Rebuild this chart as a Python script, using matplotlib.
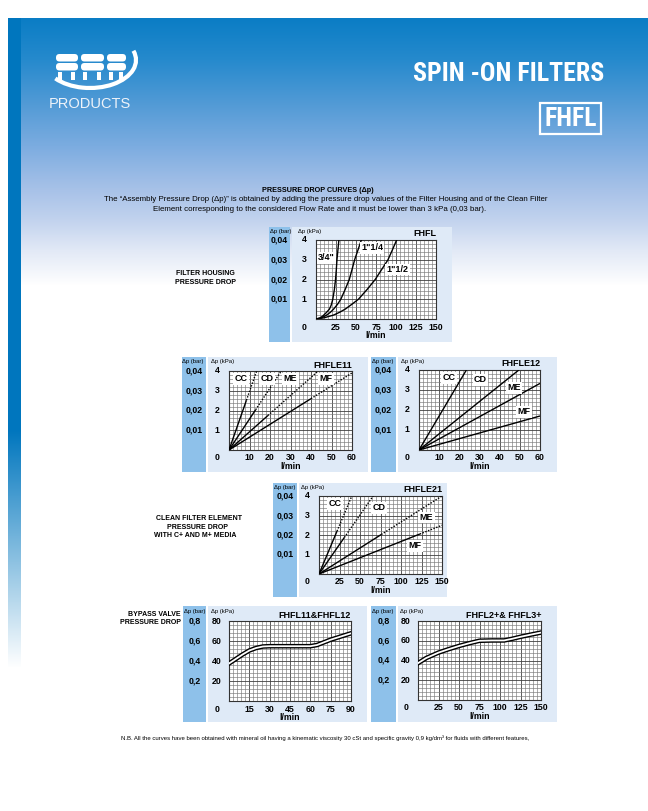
import numpy as np
import matplotlib
matplotlib.use('Agg')
import matplotlib.pyplot as plt
from matplotlib.patches import Rectangle, FancyBboxPatch, Arc
from matplotlib.transforms import blended_transform_factory
from matplotlib import font_manager

# ---------------- data ----------------
fhfl_sizes = ['3/4"', '1"1/4', '1"1/2']
fhfl_q_34 = [0, 5, 9, 13, 16.8, 19, 21, 23, 24.4, 25.4, 26.2, 27.4, 28.6]
fhfl_dp_34 = [0, 0.05, 0.17, 0.33, 0.5, 0.7, 1.0, 1.5, 2.0, 2.5, 3.0, 3.5, 4.0]
fhfl_q_114 = [0, 7, 13, 18, 22, 27, 31, 36.5, 41.6, 45, 48.3, 52.5, 56.7]
fhfl_dp_114 = [0, 0.06, 0.19, 0.34, 0.5, 0.75, 1.0, 1.5, 2.0, 2.5, 3.0, 3.5, 4.0]
fhfl_q_112 = [0, 10, 22, 30, 36.5, 45, 53, 64, 74, 82, 90, 95.5, 100.8]
fhfl_dp_112 = [0, 0.06, 0.2, 0.35, 0.5, 0.75, 1.0, 1.5, 2.0, 2.5, 3.0, 3.5, 4.0]

media = ['CC', 'CD', 'ME', 'MF']
fhfle11_q_end = [13.5, 25.5, 43.5, 60]
fhfle11_dp_end = [4, 4, 4, 3.9]
fhfle11_q_solid = [8.5, 13, 19, 40]
fhfle12_q_end = [23.5, 49.5, 60, 60]
fhfle12_dp_end = [4, 4, 3.33, 1.7]
fhfle12_q_solid = [23.5, 49.5, 60, 60]
fhfle21_q_end = [40, 66, 150, 150]
fhfle21_dp_end = [4, 4, 4, 2.5]
fhfle21_q_solid = [22, 31, 76, 123]

bp1_q = [0, 5, 10, 15, 20, 25, 30, 45, 60, 65, 75, 90]
bp1_dp = [37.5, 42, 46.5, 50.5, 53, 54.5, 54.8, 54.8, 54.8, 56, 61.3, 67.7]
bp2_q = [0, 10, 25, 37.5, 50, 62.5, 75, 90, 105, 115, 125, 137.5, 150]
bp2_dp = [37.3, 42.5, 48, 51.5, 54.7, 57.5, 60, 60.3, 60.3, 62, 64, 66.2, 68.3]

kpa_ticks = [1, 2, 3, 4]
kpa_bar_labels = ['0,01', '0,02', '0,03', '0,04']
bp_kpa_ticks = [20, 40, 60, 80]
bp_bar_labels = ['0,2', '0,4', '0,6', '0,8']
x_ticks_150 = [25, 50, 75, 100, 125, 150]
x_ticks_60 = [10, 20, 30, 40, 50, 60]
x_ticks_90 = [15, 30, 45, 60, 75, 90]

# ---------------- fonts ----------------
SANS = ['Liberation Sans', 'DejaVu Sans']
plt.rcParams['font.family'] = SANS


def find_condensed():
    prefs = ['LiberationSansNarrow-Bold', 'RobotoCondensed-Bold', 'Roboto_Condensed-Bold',
             'DejaVuSansCondensed-Bold', 'OpenSans_Condensed-Bold', 'OpenSansCondensed-Bold']
    files = [f.fname for f in font_manager.fontManager.ttflist]
    for p in prefs:
        for fn in files:
            if p.lower() in fn.replace(' ', '').lower():
                return fn
    return None


COND = find_condensed()


def cond_props(size):
    if COND:
        return dict(fontproperties=font_manager.FontProperties(fname=COND, size=size))
    return dict(family=SANS, fontweight='bold', fontsize=size)


W, H = 648, 811
fig = plt.figure(figsize=(W / 100, H / 100), dpi=100)
bg = fig.add_axes([0, 0, 1, 1])
bg.axis('off')

# ---------------- background gradient ----------------
ys = np.arange(H)
stops_y = [18, 60, 100, 150, 190, 220, 250, 285]
stops_c = np.array([[10, 125, 197], [38, 138, 205], [78, 153, 213], [128, 174, 225],
                    [168, 194, 232], [194, 211, 238], [226, 233, 246], [255, 255, 255]]) / 255
col = np.stack([np.interp(ys, stops_y, stops_c[:, k]) for k in range(3)], axis=1)
strip_y = [18, 430, 667]
strip_c = np.array([[0, 118, 190], [0, 118, 190], [255, 255, 255]]) / 255
scol = np.stack([np.interp(ys, strip_y, strip_c[:, k]) for k in range(3)], axis=1)
img = np.ones((H, W, 3))
img[18:, 8:, :] = col[18:, None, :]
img[18:, 8:21, :] = scol[18:, None, :]
bg.imshow(img, extent=[0, W, H, 0], interpolation='bilinear', aspect='auto', zorder=0)
bg.set_xlim(0, W)
bg.set_ylim(H, 0)

# ---------------- logo ----------------
for bx, bw in [(56, 22), (81, 23), (107, 19)]:
    bg.add_patch(FancyBboxPatch((bx, 54), bw, 7.5, boxstyle='round,pad=0,rounding_size=3.5',
                                fc='white', ec='none', zorder=3))
    bg.add_patch(FancyBboxPatch((bx, 63), bw, 7.5, boxstyle='round,pad=0,rounding_size=3.5',
                                fc='white', ec='none', zorder=3))
    bg.add_patch(Rectangle((bx + 2, 72), 4, 8, fc='white', ec='none', zorder=3))
    bg.add_patch(Rectangle((bx + bw - 7, 72), 4, 8, fc='white', ec='none', zorder=3))
bg.add_patch(Arc((90, 60), 92, 56, theta1=-12, theta2=152, color='white', lw=3.0, zorder=3))
bg.text(90, 104, 'PRODUCTS', color='#eef3fa', fontsize=10.5, ha='center', va='center',
        family=SANS, zorder=4)

# ---------------- header titles ----------------
t_title = bg.text(604, 74, 'SPIN -ON FILTERS', color='white', ha='right', va='center',
                  zorder=4, **cond_props(20))
bg.add_patch(Rectangle((540, 103), 61, 31, fc='none', ec='white', lw=1.6, zorder=4))
t_box = bg.text(570.5, 119, 'FHFL', color='white', ha='center', va='center', zorder=4,
                **cond_props(18))

bg.text(318, 190, 'PRESSURE DROP CURVES (Δp)', fontsize=5.2, fontweight='bold',
        ha='center', va='center', zorder=4)
bg.text(326, 199.5, 'The \u201cAssembly Pressure Drop (Δp)\u201d is obtained by adding the pressure drop '
        'values of the Filter Housing and of the Clean Filter', fontsize=5.65,
        ha='center', va='center', zorder=4)
bg.text(320, 209.5, 'Element corresponding to the considered Flow Rate and it must be lower than '
        '3 kPa (0,03 bar).', fontsize=5.65, ha='center', va='center', zorder=4)

bg.text(205.5, 273.5, 'FILTER HOUSING', fontsize=5.0, fontweight='bold', ha='center', va='center')
bg.text(205.5, 282, 'PRESSURE DROP', fontsize=5.0, fontweight='bold', ha='center', va='center')
bg.text(199, 518.5, 'CLEAN FILTER ELEMENT', fontsize=5.0, fontweight='bold', ha='center', va='center')
bg.text(197.5, 527.5, 'PRESSURE DROP', fontsize=5.0, fontweight='bold', ha='center', va='center')
bg.text(195, 535.5, 'WITH C+ AND M+ MEDIA', fontsize=5.0, fontweight='bold', ha='center', va='center')
bg.text(181, 614, 'BYPASS VALVE', fontsize=5.0, fontweight='bold', ha='right', va='center')
bg.text(181, 622.5, 'PRESSURE DROP', fontsize=5.0, fontweight='bold', ha='right', va='center')

bg.text(121, 738, 'N.B. All the curves have been obtained with mineral oil having a kinematic viscosity '
        '30 cSt and specific gravity 0,9 kg/dm\u00b3 for fluids with different features,',
        fontsize=4.35, ha='left', va='center')

STRIP = '#8ec1ea'
PANEL = '#dfeaf7'
MINOR = '#7a7a7a'
MAJOR = '#404040'
TK = dict(fontsize=6.3, fontweight='bold', ha='center', va='center', clip_on=False)


def panel(box, plot, xlim, ylim, xminor, xmajor, yminor, ymajor,
          xticks, yticks, ybar, title):
    sx0, sx1, pr, ty, by = box
    bg.add_patch(Rectangle((sx0, ty), sx1 - sx0, by - ty, fc=STRIP, ec='none', zorder=1))
    bg.add_patch(Rectangle((sx1 + 1.5, ty), pr - sx1 - 1.5, by - ty, fc=PANEL, ec='none', zorder=1))
    x0, x1, yt, yb = plot
    ax = fig.add_axes([x0 / W, 1 - yb / H, (x1 - x0) / W, (yb - yt) / H])
    ax.set_facecolor('white')
    ax.set_xlim(*xlim)
    ax.set_ylim(*ylim)
    ax.set_xticks(np.arange(xlim[0], xlim[1] + 1e-9, xmajor))
    ax.set_xticks(np.arange(xlim[0], xlim[1] + 1e-9, xminor), minor=True)
    ax.set_yticks(np.arange(ylim[0], ylim[1] + 1e-9, ymajor))
    ax.set_yticks(np.arange(ylim[0], ylim[1] + 1e-9, yminor), minor=True)
    ax.grid(which='minor', color=MINOR, lw=0.45)
    ax.grid(which='major', color=MAJOR, lw=0.6)
    ax.set_axisbelow(True)
    ax.tick_params(which='both', length=0, labelbottom=False, labelleft=False)
    for s in ax.spines.values():
        s.set_color('#333333')
        s.set_linewidth(0.8)
    tr_y = blended_transform_factory(bg.transData, ax.transData)
    tr_x = blended_transform_factory(ax.transData, bg.transData)
    kx = x0 - 12
    sc = (sx0 + sx1) / 2
    for v, b in zip(yticks, ybar):
        ax.text(kx, v, f'{v:g}', transform=tr_y, **TK)
        ax.text(sc, v, b, transform=tr_y, **TK)
    ax.text(kx, yb + 8, '0', transform=bg.transData, **TK)
    for v in xticks:
        ax.text(v, yb + 8, f'{v:g}', transform=tr_x, **TK)
    ax.text((x0 + x1) / 2, yb + 16.5, 'l/min', transform=bg.transData, **TK)
    ax.text(sx0 + 0.5, yt - 9, 'Δp (bar)', transform=bg.transData, fontsize=4.3,
            ha='left', va='center', clip_on=False)
    ax.text(x0 - 18, yt - 9, 'Δp (kPa)', transform=bg.transData, fontsize=4.3,
            ha='left', va='center', clip_on=False)
    ax.text(x1, yt - 6, title, transform=bg.transData, fontsize=6.5,
            fontweight='bold', ha='right', va='center', clip_on=False)
    return ax


def label(ax, x, y, s):
    ax.text(x, y, s, fontsize=6.5, fontweight='bold', ha='center', va='center', zorder=5,
            bbox=dict(fc='white', ec='none', pad=1.0))


LW = 1.0
DOT = (0, (1.0, 1.1))


def media_lines(ax, q_end, dp_end, q_solid):
    for qe, de, qs in zip(q_end, dp_end, q_solid):
        ds = de * qs / qe
        ax.plot([0, qs], [0, ds], color='black', lw=LW, solid_capstyle='butt', zorder=3)
        if qs < qe:
            ax.plot([qs, qe], [ds, de], color='black', lw=LW, ls=DOT, zorder=3)


# ---------------- FHFL housing ----------------
ax = panel((269, 290, 452, 227, 342), (316, 436, 240, 319), (0, 150), (0, 4),
           5, 25, 0.2, 1, x_ticks_150, kpa_ticks, kpa_bar_labels, 'FHFL')
for q, dp in [(fhfl_q_34, fhfl_dp_34), (fhfl_q_114, fhfl_dp_114), (fhfl_q_112, fhfl_dp_112)]:
    ax.plot(q, dp, color='black', lw=LW, zorder=3)
for (lx, ly), s in zip([(13, 3.1), (70, 3.6), (102, 2.5)], fhfl_sizes):
    label(ax, lx, ly, s)

# ---------------- FHFLE11 ----------------
ax = panel((182, 206, 368, 357, 472), (229, 352, 371, 450), (0, 60), (0, 4),
           2, 10, 0.2, 1, x_ticks_60, kpa_ticks, kpa_bar_labels, 'FHFLE11')
media_lines(ax, fhfle11_q_end, fhfle11_dp_end, fhfle11_q_solid)
for (lx, ly), s in zip([(5.9, 3.6), (18.7, 3.6), (30, 3.6), (47.3, 3.6)], media):
    label(ax, lx, ly, s)

# ---------------- FHFLE12 ----------------
ax = panel((371, 396, 557, 357, 472), (419, 540, 370, 450), (0, 60), (0, 4),
           2, 10, 0.2, 1, x_ticks_60, kpa_ticks, kpa_bar_labels, 'FHFLE12')
media_lines(ax, fhfle12_q_end, fhfle12_dp_end, fhfle12_q_solid)
for (lx, ly), s in zip([(14.9, 3.6), (30.5, 3.5), (47, 3.1), (52, 1.9)], media):
    label(ax, lx, ly, s)

# ---------------- FHFLE21 ----------------
ax = panel((273, 297, 447, 483, 597), (319, 442, 496, 574), (0, 150), (0, 4),
           5, 25, 0.2, 1, x_ticks_150, kpa_ticks, kpa_bar_labels, 'FHFLE21')
media_lines(ax, fhfle21_q_end, fhfle21_dp_end, fhfle21_q_solid)
for (lx, ly), s in zip([(19.5, 3.6), (73.5, 3.4), (131, 2.9), (117, 1.45)], media):
    label(ax, lx, ly, s)

# ---------------- bypass ----------------
ax = panel((183, 206, 367, 606, 722), (229, 351, 621, 701), (0, 90), (0, 80),
           3, 15, 4, 20, x_ticks_90, bp_kpa_ticks, bp_bar_labels, 'FHFL11&FHFL12')
ax.plot(bp1_q, bp1_dp, color='black', lw=3.3, zorder=3)
ax.plot(bp1_q, bp1_dp, color='white', lw=1.3, zorder=4)

ax = panel((371, 396, 557, 606, 722), (418, 541, 621, 700), (0, 150), (0, 80),
           5, 25, 4, 20, x_ticks_150, bp_kpa_ticks, bp_bar_labels, 'FHFL2+& FHFL3+')
ax.plot(bp2_q, bp2_dp, color='black', lw=3.3, zorder=3)
ax.plot(bp2_q, bp2_dp, color='white', lw=1.3, zorder=4)

# fit header titles to their widths in the reference
fig.canvas.draw()
for t, target in [(t_title, 191.0), (t_box, 52.0)]:
    bb = t.get_window_extent()
    t.set_fontsize(t.get_fontsize() * target / bb.width)

fig.savefig('out.png', dpi=100)
